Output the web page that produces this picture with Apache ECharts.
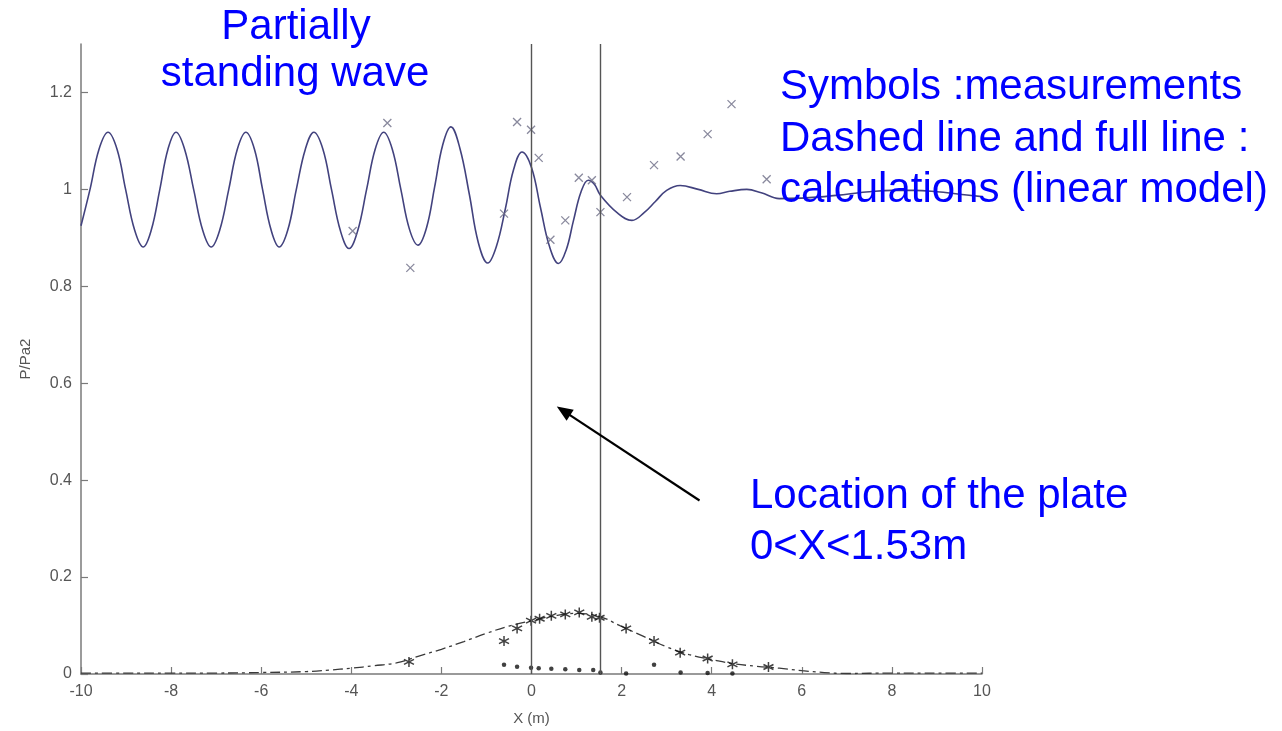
<!DOCTYPE html>
<html><head><meta charset="utf-8">
<script src="https://cdn.jsdelivr.net/npm/echarts@6/dist/echarts.min.js"></script>
<style>html,body{margin:0;padding:0;background:#fff}#c{width:1282px;height:731px}</style>
</head><body><div id="c"></div>
<script>
// ---- data ----
const Y_TICKS = [0, 0.2, 0.4, 0.6, 0.8, 1, 1.2];
const PLATE_EDGES = [0, 1.53];

// full line (calculation, upper)
const upperX = [-10.00, -9.80, -9.60, -9.40, -9.20, -9.01, -8.81, -8.62, -8.44, -8.25, -8.07, -7.89, -7.70, -7.50, -7.30, -7.11, -6.92, -6.72, -6.53, -6.34, -6.15, -5.97, -5.78, -5.60, -5.41, -5.22, -5.02, -4.83, -4.63, -4.44, -4.24, -4.05, -3.86, -3.66, -3.47, -3.28, -3.09, -2.90, -2.71, -2.52, -2.33, -2.15, -1.97, -1.79, -1.59, -1.38, -1.18, -0.97, -0.78, -0.58, -0.40, -0.21, 0.00, 0.20, 0.40, 0.60, 0.77, 0.93, 1.10, 1.26, 1.40, 1.53, 1.90, 2.23, 2.50, 2.75, 3.00, 3.30, 3.70, 4.11, 4.40, 4.78, 5.10, 5.50, 6.0, 6.5, 7.0, 7.5, 8.0, 8.5, 9.0, 9.5, 10];
const upperY = [0.925, 1.000, 1.083, 1.118, 1.083, 1.000, 0.916, 0.881, 0.916, 1.000, 1.083, 1.118, 1.083, 1.000, 0.916, 0.881, 0.916, 1.000, 1.083, 1.118, 1.083, 1.000, 0.916, 0.881, 0.916, 1.000, 1.083, 1.118, 1.083, 1.000, 0.914, 0.878, 0.914, 1.000, 1.083, 1.118, 1.083, 1.000, 0.918, 0.885, 0.921, 1.005, 1.092, 1.129, 1.085, 0.990, 0.890, 0.848, 0.882, 0.960, 1.040, 1.077, 1.045, 0.962, 0.882, 0.847, 0.875, 0.935, 0.995, 1.019, 1.010, 0.988, 0.952, 0.936, 0.952, 0.975, 0.998, 1.008, 1.000, 0.991, 0.996, 1.000, 0.993, 0.981, 0.982, 0.985, 0.990, 0.995, 0.998, 0.998, 0.995, 0.990, 0.985];

// measurements (x symbols, upper)
const crossX = [-3.97, -3.20, -2.69, -0.61, -0.32, -0.01, 0.16, 0.42, 0.75, 1.05, 1.34, 1.53, 2.12, 2.72, 3.31, 3.91, 4.44, 5.22];
const crossY = [0.914, 1.137, 0.838, 0.950, 1.139, 1.123, 1.065, 0.896, 0.936, 1.024, 1.019, 0.953, 0.984, 1.050, 1.068, 1.114, 1.176, 1.021];

// dashed line (calculation, lower)
const lowX = [-10, -9, -8, -7, -6, -5, -4.5, -4, -3.5, -3, -2.5, -2, -1.5, -1, -0.5, 0, 0.5, 1.0, 1.5, 2.0, 2.5, 3.0, 3.5, 4.0, 4.5, 5.0, 5.5, 6.0, 6.5, 7, 8, 9, 10];
const lowY = [0.002, 0.002, 0.002, 0.002, 0.003, 0.005, 0.008, 0.012, 0.017, 0.023, 0.037, 0.051, 0.067, 0.084, 0.099, 0.110, 0.120, 0.125, 0.119, 0.098, 0.077, 0.056, 0.040, 0.030, 0.021, 0.016, 0.012, 0.007, 0.003, 0.001, 0.002, 0.002, 0.002];

// measurements (asterisks, lower)
const starX = [-2.72, -0.61, -0.32, -0.01, 0.18, 0.44, 0.75, 1.06, 1.34, 1.51, 2.10, 2.72, 3.30, 3.91, 4.46, 5.26];
const starY = [0.025, 0.068, 0.094, 0.110, 0.114, 0.120, 0.123, 0.127, 0.118, 0.116, 0.094, 0.068, 0.044, 0.032, 0.020, 0.0145];

// measurements (dots, lower)
const dotX = [-0.61, -0.32, -0.01, 0.16, 0.44, 0.75, 1.06, 1.37, 1.53, 2.10, 2.72, 3.31, 3.91, 4.46];
const dotY = [0.019, 0.015, 0.013, 0.012, 0.011, 0.010, 0.008, 0.008, 0.003, 0.001, 0.019, 0.003, 0.002, 0.001];

// arrow annotation (data coordinates: tail, tip)
const ARROW_TAIL = [3.73, 0.358];
const ARROW_TIP = [0.71, 0.543];

const zip = (a, b) => a.map((v, i) => [v, b[i]]);

const FONT = 'Liberation Sans, Arial, sans-serif';
const BLUE = '#0000ff';
const AX = '#7a7a7a';

const chart = echarts.init(document.getElementById('c'), null, {renderer: 'canvas'});

function txt(text, x, y, align) {
  return {
    type: 'text', x: x, y: y, silent: true, z: 10,
    style: {text: text, fill: BLUE, font: '42px ' + FONT, align: align, verticalAlign: 'middle'}
  };
}

chart.setOption({
  animation: false,
  backgroundColor: '#fff',
  grid: {left: 81, right: 300, top: 44, bottom: 57, containLabel: false},
  xAxis: {
    type: 'value', min: -10, max: 10, interval: 2,
    name: 'X (m)', nameLocation: 'middle', nameGap: 37,
    nameTextStyle: {color: '#555', fontSize: 15, fontFamily: FONT},
    axisLine: {show: true, onZero: false, lineStyle: {color: AX, width: 1.5}},
    axisTick: {show: true, inside: true, length: 7, lineStyle: {color: AX, width: 1.2}},
    axisLabel: {color: '#555', fontSize: 16, fontFamily: FONT, margin: 10},
    splitLine: {show: false}
  },
  yAxis: {
    type: 'value', min: 0, max: 1.3,
    name: 'P/Pa2', nameLocation: 'middle', nameGap: 48,
    nameTextStyle: {color: '#555', fontSize: 15, fontFamily: FONT},
    axisLine: {show: true, onZero: false, lineStyle: {color: AX, width: 1.5}},
    axisTick: {show: true, inside: true, length: 7, customValues: Y_TICKS, lineStyle: {color: AX, width: 1.2}},
    axisLabel: {color: '#555', fontSize: 16, fontFamily: FONT, margin: 9, customValues: Y_TICKS},
    splitLine: {show: false}
  },
  series: [
    {
      type: 'line', data: zip(upperX, upperY), smooth: 0.4, symbol: 'none',
      lineStyle: {color: '#42427e', width: 1.6}, z: 3,
      markLine: {
        silent: true, symbol: ['none', 'none'], label: {show: false},
        lineStyle: {color: '#555', width: 1.4, type: 'solid'},
        data: PLATE_EDGES.map(v => ({xAxis: v}))
      }
    },
    {
      type: 'scatter', data: zip(crossX, crossY),
      symbol: 'path://M0,0L10,10M10,0L0,10', symbolSize: 8,
      itemStyle: {color: 'rgba(0,0,0,0)', borderColor: '#6c6c84', borderWidth: 1.3}, z: 4
    },
    {
      type: 'line', data: zip(lowX, lowY), smooth: 0.4, symbol: 'none',
      lineStyle: {color: '#3a3a3a', width: 1.3, type: [10, 4, 3, 4]}, z: 3,
      markLine: {
        silent: true, symbol: ['none', 'path://M0,0L6,14L-6,14Z'], symbolSize: [13, 16],
        label: {show: false},
        lineStyle: {color: '#000', width: 2.2, type: 'solid'},
        data: [[{coord: ARROW_TAIL}, {coord: ARROW_TIP}]]
      }
    },
    {
      type: 'scatter', data: zip(starX, starY),
      symbol: 'path://M5,0L5,10M0.67,2.5L9.33,7.5M0.67,7.5L9.33,2.5', symbolSize: 10,
      itemStyle: {color: 'rgba(0,0,0,0)', borderColor: '#111', borderWidth: 1.5}, z: 4
    },
    {
      type: 'scatter', data: zip(dotX, dotY), symbol: 'circle', symbolSize: 4.5,
      itemStyle: {color: '#111'}, z: 4
    }
  ],
  graphic: [
    txt('Partially', 296, 27, 'center'),
    txt('standing wave', 295, 74, 'center'),
    txt('Symbols :measurements', 780, 87, 'left'),
    txt('Dashed line and full line :', 780, 139, 'left'),
    txt('calculations (linear model)', 780, 190, 'left'),
    txt('Location of the plate', 750, 496, 'left'),
    txt('0<X<1.53m', 750, 547, 'left')
  ]
});
</script></body></html>
